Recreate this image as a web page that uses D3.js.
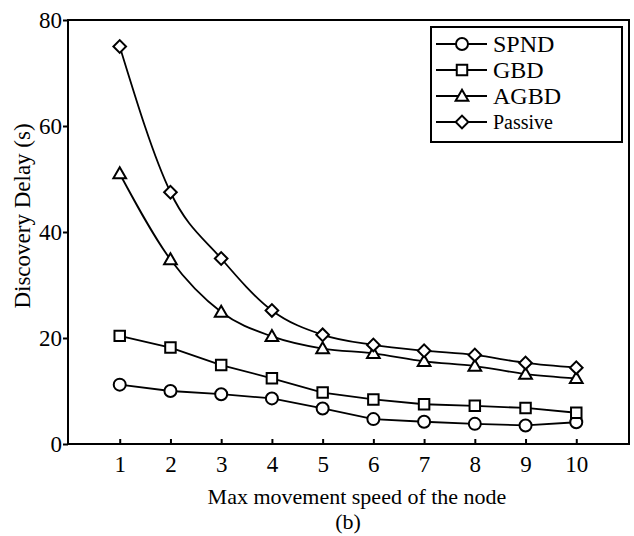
<!DOCTYPE html>
<html>
<head>
<meta charset="utf-8">
<script src="https://cdn.jsdelivr.net/npm/d3@7/dist/d3.min.js"></script>
<style>
  body { margin: 0; background: #fff; }
  text { font-family: "Liberation Serif", "Times New Roman", serif; fill: #000; }
</style>
</head>
<body>
<svg id="chart" width="634" height="536"></svg>
<script>
// data
speeds = [1, 2, 3, 4, 5, 6, 7, 8, 9, 10];
spnd    = [11.2, 10.0, 9.4, 8.6, 6.7, 4.7, 4.2, 3.8, 3.5, 4.1];
gbd     = [20.4, 18.2, 14.9, 12.4, 9.7, 8.4, 7.5, 7.2, 6.8, 5.9];
agbd    = [51.0, 34.8, 24.9, 20.3, 18.0, 17.1, 15.6, 14.7, 13.2, 12.4];
passive = [75.0, 47.5, 35.0, 25.2, 20.6, 18.7, 17.6, 16.8, 15.3, 14.4];
yTicks = [0, 20, 40, 60, 80];
seriesNames = ["SPND", "GBD", "AGBD", "Passive"];

svg = d3.select("#chart");

x = d3.scaleLinear().domain([0, 11]).range([69, 627]);
y = d3.scaleLinear().domain([0, 80]).range([444, 20]);

series = [
  {name: seriesNames[0], values: spnd,    shape: "circle",   curve: d3.curveLinear},
  {name: seriesNames[1], values: gbd,     shape: "square",   curve: d3.curveLinear},
  {name: seriesNames[2], values: agbd,    shape: "triangle", curve: d3.curveMonotoneX},
  {name: seriesNames[3], values: passive, shape: "diamond",  curve: d3.curveMonotoneX}
];

function marker(g, shape) {
  if (shape == "circle") {
    g.append("circle").attr("r", 6).attr("fill", "#fff").attr("stroke", "#000").attr("stroke-width", 2);
  } else if (shape == "square") {
    g.append("path").attr("d", d3.symbol(d3.symbolSquare, 110)())
      .attr("fill", "#fff").attr("stroke", "#000").attr("stroke-width", 2);
  } else if (shape == "triangle") {
    g.append("path").attr("d", d3.symbol(d3.symbolTriangle, 70)())
      .attr("transform", "translate(0,1)")
      .attr("fill", "#fff").attr("stroke", "#000").attr("stroke-width", 2);
  } else {
    g.append("path").attr("d", d3.symbol(d3.symbolSquare, 80)())
      .attr("transform", "rotate(45)")
      .attr("fill", "#fff").attr("stroke", "#000").attr("stroke-width", 2);
  }
}

// axes
xAxis = d3.axisBottom(x).tickValues(speeds).tickSizeInner(-5).tickSizeOuter(0).tickPadding(12);
yAxis = d3.axisLeft(y).tickValues(yTicks).tickSizeInner(5).tickSizeOuter(0).tickPadding(1);

gx = svg.append("g").attr("transform", "translate(0,444)").call(xAxis);
gy = svg.append("g").attr("transform", "translate(68,0)").call(yAxis);
[gx, gy].forEach(function(g){
  g.select(".domain").remove();
  g.selectAll("line").attr("stroke", "#000").attr("stroke-width", 2);
  g.selectAll("text").attr("font-size", "23px").attr("fill", "#000")
    .style("font-family", "'Liberation Serif', serif");
});
gy.selectAll("text").attr("dy", "0.34em");

// lines and markers
series.forEach(function(s){
  pts = speeds.map(function(v, i){ return [x(v), y(s.values[i])]; });
  svg.append("path")
     .attr("d", d3.line().curve(s.curve)(pts))
     .attr("fill", "none")
     .attr("stroke", "#000")
     .attr("stroke-width", 1.8);
  pts.forEach(function(p){
     g = svg.append("g").attr("transform", "translate(" + p[0] + "," + p[1] + ")");
     marker(g, s.shape);
  });
});

// frame
svg.append("rect")
   .attr("x", 68).attr("y", 20)
   .attr("width", 561).attr("height", 424)
   .attr("fill", "none").attr("stroke", "#000").attr("stroke-width", 2);

// legend
legend = svg.append("g");
legend.append("rect")
   .attr("x", 431).attr("y", 27).attr("width", 191).attr("height", 115)
   .attr("fill", "#fff").attr("stroke", "#000").attr("stroke-width", 2);
rowY = [44, 70, 96, 122];
series.forEach(function(s, i){
  row = legend.append("g").attr("transform", "translate(0," + rowY[i] + ")");
  row.append("line").attr("x1", 436).attr("x2", 487).attr("y1", 0).attr("y2", 0)
     .attr("stroke", "#000").attr("stroke-width", 1.8);
  m = row.append("g").attr("transform", "translate(462,0)");
  marker(m, s.shape);
  row.append("text")
     .text(s.name)
     .attr("x", 493)
     .attr("y", i == 3 ? 7 : 8)
     .attr("font-size", i == 3 ? "20px" : "24px");
});

// titles
svg.append("text")
   .text("Max movement speed of the node")
   .attr("x", 357).attr("y", 504)
   .attr("font-size", "22px")
   .attr("text-anchor", "middle");

svg.append("text")
   .text("(b)")
   .attr("x", 348).attr("y", 529)
   .attr("font-size", "22px")
   .attr("text-anchor", "middle");

svg.append("text")
   .text("Discovery Delay (s)")
   .attr("transform", "translate(30,216) rotate(-90)")
   .attr("font-size", "23px")
   .attr("text-anchor", "middle");
</script>
</body>
</html>
